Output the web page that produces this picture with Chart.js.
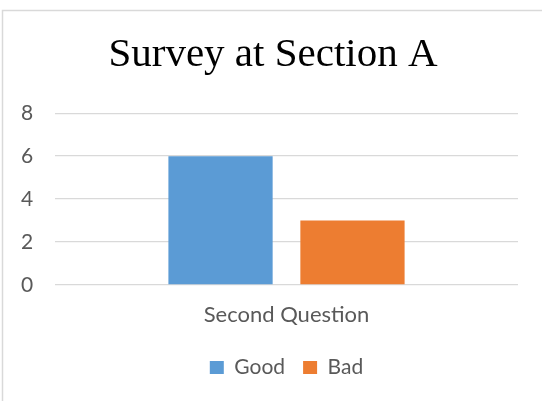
<!DOCTYPE html>
<html>
<head>
<meta charset="utf-8">
<script src="https://cdn.jsdelivr.net/npm/chart.js@4/dist/chart.umd.min.js"></script>
<style>
  html, body { margin: 0; padding: 0; background: #ffffff; }
  #wrap { position: relative; width: 542px; height: 401px; overflow: hidden; }
</style>
</head>
<body>
<div id="wrap"><canvas id="chart" width="542" height="401"></canvas></div>
<script>
// Survey results
const categories = ['Second Question'];
const seriesNames = ['Good', 'Bad'];
const goodValues = [6];
const badValues = [3];
const yTicks = [0, 2, 4, 6, 8];

const TEXT = '#595959';
const GRID = '#d9d9d9';
const UI_FONT = 'Lato, "Open Sans", sans-serif';

// Light frame around the chart, open on the right and bottom
const framePlugin = {
  id: 'frame',
  beforeDraw(chart) {
    const ctx = chart.ctx;
    ctx.save();
    ctx.strokeStyle = GRID;
    ctx.lineWidth = 1.5;
    ctx.beginPath();
    ctx.moveTo(2.5, chart.height);
    ctx.lineTo(2.5, 10.5);
    ctx.lineTo(chart.width, 10.5);
    ctx.stroke();
    ctx.restore();
  }
};

new Chart(document.getElementById('chart'), {
  type: 'bar',
  data: {
    labels: categories,
    datasets: [
      { label: seriesNames[0], data: goodValues, backgroundColor: '#5B9BD5', borderWidth: 0 },
      { label: seriesNames[1], data: badValues, backgroundColor: '#ED7D31', borderWidth: 0 }
    ]
  },
  options: {
    responsive: false,
    animation: false,
    events: [],
    categoryPercentage: 0.57,
    barPercentage: 0.79,
    layout: { padding: { top: 0, left: 28, right: 24, bottom: 13 } },
    plugins: {
      title: {
        display: true,
        text: 'Survey at Section A',
        color: '#000000',
        font: { family: '"Liberation Serif", "Times New Roman", serif', size: 41, weight: 'normal' },
        padding: { top: 31, bottom: 33 }
      },
      legend: {
        display: true,
        position: 'bottom',
        fullSize: false,
        labels: {
          color: TEXT,
          font: { family: UI_FONT, size: 21 },
          boxWidth: 14,
          boxHeight: 13,
          padding: 18
        }
      },
      tooltip: { enabled: false }
    },
    scales: {
      x: {
        grid: { display: false, drawTicks: false },
        border: { display: false },
        ticks: { color: TEXT, font: { family: UI_FONT, size: 22 }, padding: 17 },
        afterFit(scale) { scale.height = 54; }
      },
      y: {
        min: 0,
        max: 8,
        afterBuildTicks(scale) { scale.ticks = yTicks.map(v => ({ value: v })); },
        grid: { color: GRID, lineWidth: 1.3, drawTicks: false },
        border: { display: false },
        // mirrored labels are placed left of the plot with a negative offset
        ticks: { color: TEXT, font: { family: UI_FONT, size: 21 }, mirror: true, padding: -34 },
        afterFit(scale) { scale.width = 27; }
      }
    }
  },
  plugins: [framePlugin]
});
</script>
</body>
</html>
